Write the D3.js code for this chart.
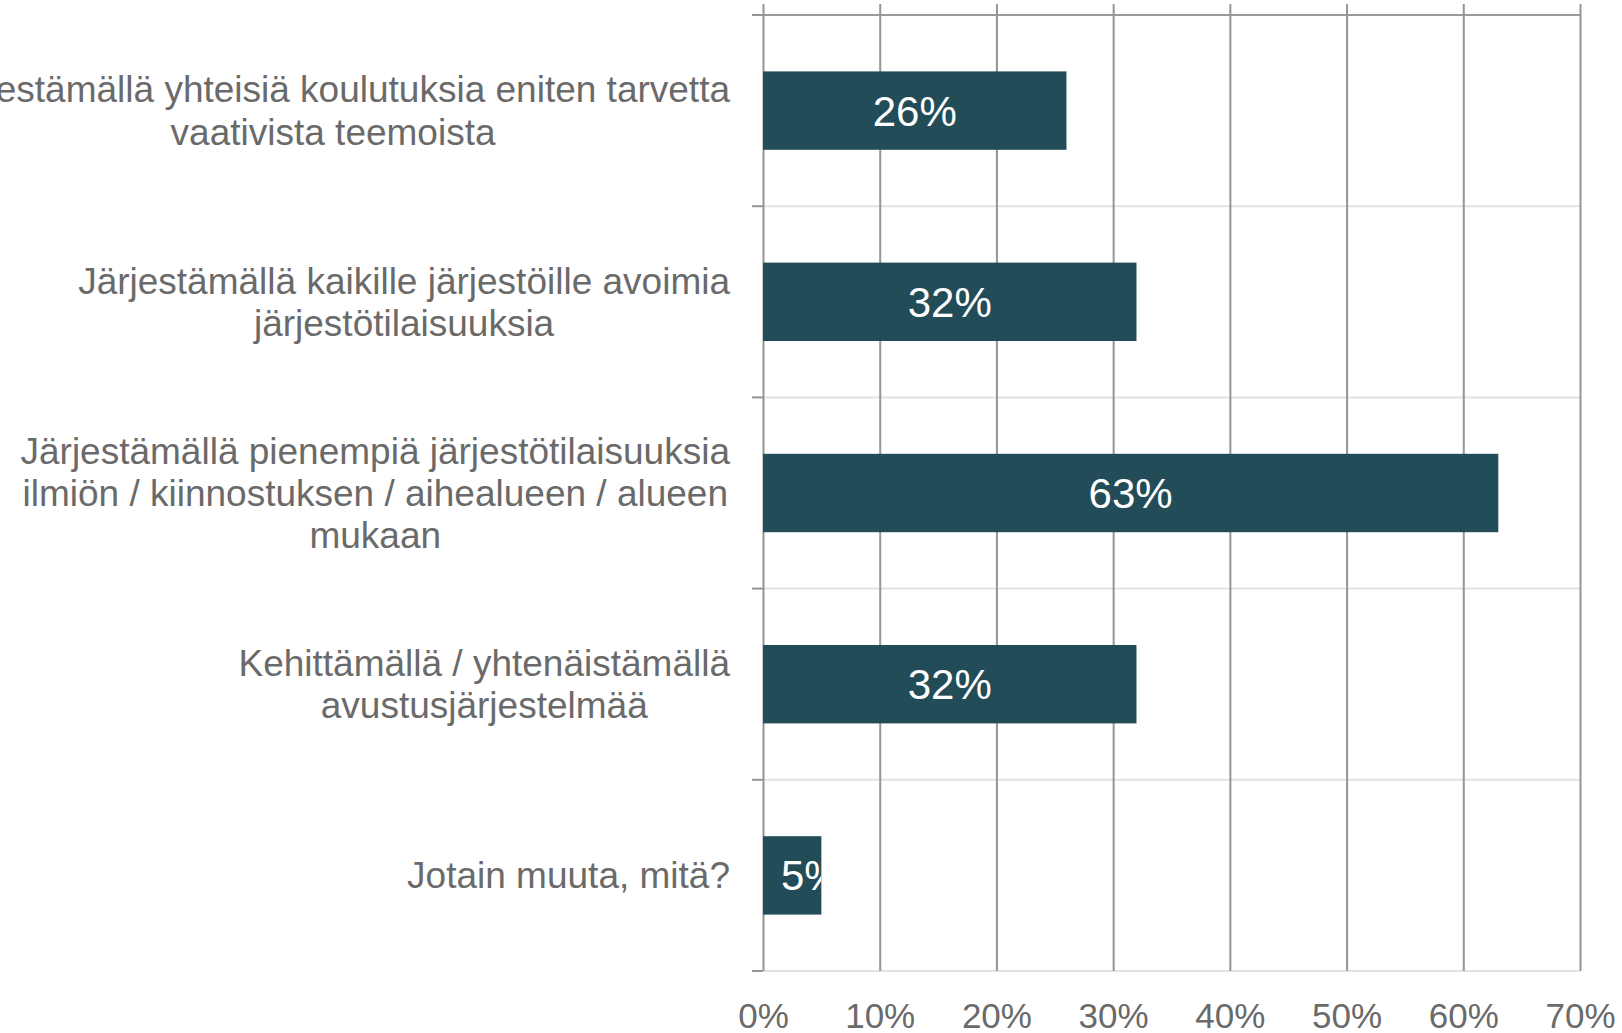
<!DOCTYPE html>
<html>
<head>
<meta charset="utf-8">
<script src="https://cdn.jsdelivr.net/npm/d3@7"></script>
<style>
  html, body { margin: 0; padding: 0; background: #fff; overflow: hidden; }
  svg { display: block; font-family: "Liberation Sans", Arial, sans-serif; }
</style>
</head>
<body>
<div id="chart"></div>
<script>
// categories (each label split into its lines, as in the original)
const categories = [
  ["Järjestämällä yhteisiä koulutuksia eniten tarvetta", "vaativista teemoista"],
  ["Järjestämällä kaikille järjestöille avoimia", "järjestötilaisuuksia"],
  ["Järjestämällä pienempiä järjestötilaisuuksia", "ilmiön / kiinnostuksen / aihealueen / alueen", "mukaan"],
  ["Kehittämällä / yhtenäistämällä", "avustusjärjestelmää"],
  ["Jotain muuta, mitä?"]
];
const values = [26, 32, 63, 32, 5];
const xTicks = [0, 10, 20, 30, 40, 50, 60, 70];

/*******************************/
/*    Declare the constants    */
/*******************************/
const width = 1622;
const height = 1033;
const plot = {left: 763, right: 1580, top: 15, bottom: 971};
const barColor = "#234c59";
const textColor = "#6a6a6a";

const svg = d3.select("#chart")
  .append("svg")
    .attr("width", width)
    .attr("height", height);

/*******************************/
/*    Scales                   */
/*******************************/
const ids = categories.map((d, i) => i);
const xScale = d3.scaleLinear()
  .domain([0, 70])
  .range([plot.left, plot.right]);

const yScale = d3.scaleBand()
  .domain(ids)
  .range([plot.top, plot.bottom])
  .paddingInner(0.59)
  .paddingOuter(0.295);

const step = yScale.step();
const bounds = d3.range(categories.length + 1).map(i => plot.top + i * step);

/*******************************/
/*    Grid                     */
/*******************************/
// horizontal separators between categories
svg.append("g")
  .selectAll("line")
  .data(bounds)
  .join("line")
    .attr("x1", plot.left)
    .attr("x2", plot.right)
    .attr("y1", d => d)
    .attr("y2", d => d)
    .attr("stroke", (d, i) => i === 0 ? "#9a9a9a" : "#e2e2e2")
    .attr("stroke-width", 2);

// vertical grid lines + tick labels from the bottom axis
const bottomAxis = d3.axisBottom(xScale)
  .tickValues(xTicks)
  .tickFormat(d => d + "%")
  .tickSize(-(plot.bottom - 4))
  .tickSizeOuter(0);

const xAxis = svg.append("g")
  .attr("transform", `translate(0, ${plot.bottom})`)
  .call(bottomAxis);
xAxis.select(".domain").remove();
xAxis.selectAll(".tick line")
  .attr("stroke", "#959595")
  .attr("stroke-width", 2);
xAxis.selectAll(".tick text")
  .attr("y", 57)
  .attr("dy", null)
  .attr("fill", textColor)
  .attr("font-size", 35)
  .attr("font-family", "Liberation Sans, Arial, sans-serif");

// small ticks on the left of the category axis
svg.append("g")
  .selectAll("line")
  .data(bounds)
  .join("line")
    .attr("x1", plot.left - 11)
    .attr("x2", plot.left)
    .attr("y1", d => d)
    .attr("y2", d => d)
    .attr("stroke", "#959595")
    .attr("stroke-width", 2);

/*******************************/
/*    Bars                     */
/*******************************/
const defs = svg.append("defs");
const bars = svg.append("g")
  .selectAll("g")
  .data(values)
  .join("g");

bars.each(function(v, i) {
  defs.append("clipPath")
    .attr("id", "clip" + i)
    .append("rect")
      .attr("x", xScale(0))
      .attr("y", yScale(i))
      .attr("width", xScale(v) - xScale(0))
      .attr("height", yScale.bandwidth());
});

bars.append("rect")
  .attr("x", xScale(0))
  .attr("y", (d, i) => yScale(i))
  .attr("width", d => xScale(d) - xScale(0))
  .attr("height", yScale.bandwidth())
  .attr("fill", barColor);

bars.append("text")
  .attr("clip-path", (d, i) => `url(#clip${i})`)
  .attr("y", (d, i) => yScale(i) + yScale.bandwidth() / 2 + 15)
  .attr("fill", "#fff")
  .attr("font-size", 42)
  .text(d => d + "%")
  .each(function(d) {
    const w = this.getComputedTextLength();
    const cx = (xScale(0) + xScale(d)) / 2;
    const x = Math.max(cx - w / 2, xScale(0) + 18);
    d3.select(this).attr("x", x);
  });

/*******************************/
/*    Category labels          */
/*******************************/
const labelRight = 730;
const lineH = 42.4;

svg.append("g")
  .selectAll("text")
  .data(categories)
  .join("text")
    .attr("fill", textColor)
    .attr("font-size", 37)
    .each(function(lines, i) {
      const t = d3.select(this);
      const cy = yScale(i) + yScale.bandwidth() / 2;
      const y0 = cy - (lines.length - 1) * lineH / 2 + 13;
      const spans = t.selectAll("tspan")
        .data(lines)
        .join("tspan")
          .attr("y", (d, j) => y0 + j * lineH)
          .text(d => d);
      const widths = [];
      spans.each(function() { widths.push(this.getComputedTextLength()); });
      const blockW = d3.max(widths);
      const center = labelRight - blockW / 2;
      spans.attr("text-anchor", "middle").attr("x", center);
    });
</script>
</body>
</html>
